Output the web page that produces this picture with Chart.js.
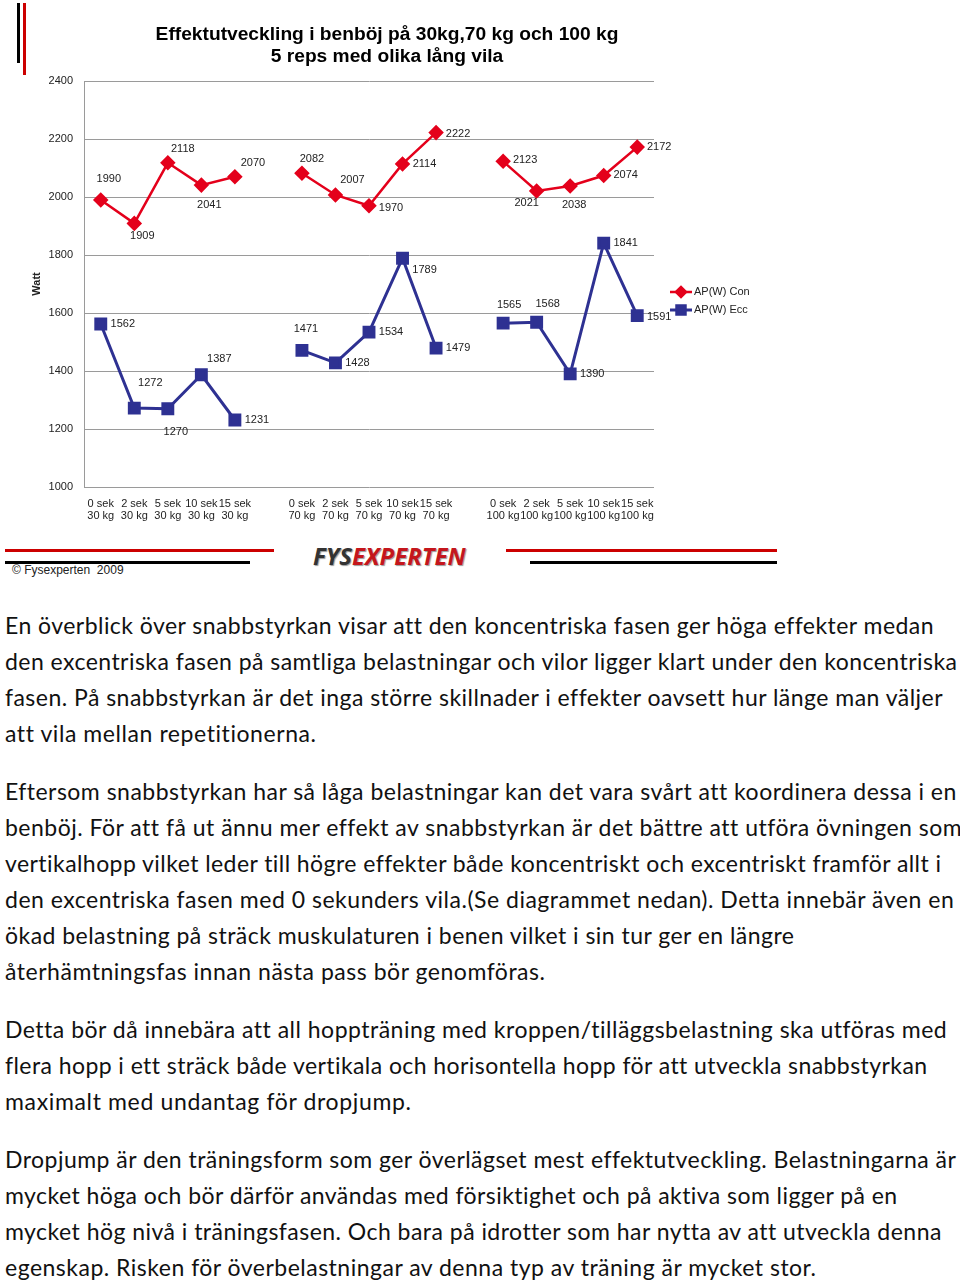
<!DOCTYPE html>
<html>
<head>
<meta charset="utf-8">
<script src="https://cdn.jsdelivr.net/npm/chart.js@4.4.1/dist/chart.umd.min.js"></script>
<style>
  body { margin: 0; background: #fff; width: 960px; height: 1281px; position: relative; overflow: hidden; }
  .abs { position: absolute; }
  #chart { position: absolute; left: 0; top: 0; }
  .logo { font-family: "Open Sans", sans-serif; font-weight: 700; font-style: italic; font-size: 24px;
          text-shadow: 1px 1px 1px #999; line-height: 1; }
  .copy { font-family: "Liberation Sans", Arial, sans-serif; font-size: 12px; color: #222; }
  .para { position: absolute; left: 5px; font-family: Lato, "Open Sans", sans-serif; font-size: 23px;
          line-height: 36px; color: #111; white-space: nowrap; }
  .para div span { display: inline-block; }
</style>
</head>
<body>

<div class="abs" style="left:17px;top:3px;width:3px;height:60px;background:#000"></div>
<div class="abs" style="left:23px;top:3px;width:3px;height:72px;background:#c00"></div>

<canvas id="chart" width="800" height="530"></canvas>

<div class="abs" style="left:5px;top:549px;width:269px;height:3px;background:#c00"></div>
<div class="abs" style="left:5px;top:561px;width:245px;height:3px;background:#000"></div>
<div class="abs" style="left:506px;top:549px;width:271px;height:3px;background:#c00"></div>
<div class="abs" style="left:530px;top:561px;width:247px;height:3px;background:#000"></div>
<div class="abs logo" style="left:313px;top:544px"><span style="color:#333">FYS</span><span style="color:#c4161c">EXPERTEN</span></div>
<div class="abs copy" style="left:12px;top:563px">© Fysexperten&nbsp; 2009</div>

<div class="para" style="top:607px">
  <div data-r="932"><span>En överblick över snabbstyrkan visar att den koncentriska fasen ger höga effekter medan</span></div>
  <div data-r="957"><span>den excentriska fasen på samtliga belastningar och vilor ligger klart under den koncentriska</span></div>
  <div data-r="941"><span>fasen. På snabbstyrkan är det inga större skillnader i effekter oavsett hur länge man väljer</span></div>
  <div data-r="316"><span>att vila mellan repetitionerna.</span></div>
</div>
<div class="para" style="top:773px">
  <div data-r="955"><span>Eftersom snabbstyrkan har så låga belastningar kan det vara svårt att koordinera dessa i en</span></div>
  <div data-r="958"><span>benböj. För att få ut ännu mer effekt av snabbstyrkan är det bättre att utföra övningen som</span></div>
  <div data-r="941"><span>vertikalhopp vilket leder till högre effekter både koncentriskt och excentriskt framför allt i</span></div>
  <div data-r="953"><span>den excentriska fasen med 0 sekunders vila.(Se diagrammet nedan). Detta innebär även en</span></div>
  <div data-r="794"><span>ökad belastning på sträck muskulaturen i benen vilket i sin tur ger en längre</span></div>
  <div data-r="545"><span>återhämtningsfas innan nästa pass bör genomföras.</span></div>
</div>
<div class="para" style="top:1011px">
  <div data-r="945"><span>Detta bör då innebära att all hoppträning med kroppen/tilläggsbelastning ska utföras med</span></div>
  <div data-r="926"><span>flera hopp i ett sträck både vertikala och horisontella hopp för att utveckla snabbstyrkan</span></div>
  <div data-r="411"><span>maximalt med undantag för dropjump.</span></div>
</div>
<div class="para" style="top:1141px">
  <div data-r="955"><span>Dropjump är den träningsform som ger överlägset mest effektutveckling. Belastningarna är</span></div>
  <div data-r="898"><span>mycket höga och bör därför användas med försiktighet och på aktiva som ligger på en</span></div>
  <div data-r="939"><span>mycket hög nivå i träningsfasen. Och bara på idrotter som har nytta av att utveckla denna</span></div>
  <div data-r="816"><span>egenskap. Risken för överbelastningar av denna typ av träning är mycket stor.</span></div>
</div>

<script>
// chart data
const categories = [
  ["0 sek", "30 kg"], ["2 sek", "30 kg"], ["5 sek", "30 kg"], ["10 sek", "30 kg"], ["15 sek", "30 kg"],
  "",
  ["0 sek", "70 kg"], ["2 sek", "70 kg"], ["5 sek", "70 kg"], ["10 sek", "70 kg"], ["15 sek", "70 kg"],
  "",
  ["0 sek", "100 kg"], ["2 sek", "100 kg"], ["5 sek", "100 kg"], ["10 sek", "100 kg"], ["15 sek", "100 kg"]
];
const conValues = [1990, 1909, 2118, 2041, 2070, null, 2082, 2007, 1970, 2114, 2222, null, 2123, 2021, 2038, 2074, 2172];
const eccValues = [1562, 1272, 1270, 1387, 1231, null, 1471, 1428, 1534, 1789, 1479, null, 1565, 1568, 1390, 1841, 1591];
const seriesNames = ["AP(W) Con", "AP(W) Ecc"];
const titleLines = ["Effektutveckling i benböj på 30kg,70 kg och 100 kg", "5 reps med olika lång vila"];
const yMin = 1000, yMax = 2400, yStep = 200;

// where each data label sits relative to its point (px)
const conLabelDx = [8, 8, 15, 8, 18, 0, 10, 17, 22, 22, 22, 0, 22, -10, 4, 22, 22];
const conLabelDy = [-21, 13, -14, 20, -14, 0, -14, -15, 2, 0, 1, 0, -1, 12, 19, -1, 0];
const eccLabelDx = [22, 16, 8, 18, 22, 0, 4, 22, 22, 22, 22, 0, 6, 11, 22, 22, 22];
const eccLabelDy = [0, -25, 23, -16, 0, 0, -21, 0, 0, 12, 0, 0, -18, -18, 0, 0, 1];

const RED = "#e4001b";
const BLUE = "#2e3192";
const FONT = '"Liberation Sans", Arial, sans-serif';

const extras = {
  id: "extras",
  afterDatasetsDraw(chart) {
    const ctx = chart.ctx;
    ctx.save();
    // data labels
    ctx.font = "11px " + FONT;
    ctx.fillStyle = "#222";
    ctx.textAlign = "center";
    ctx.textBaseline = "middle";
    const offs = [[conLabelDx, conLabelDy], [eccLabelDx, eccLabelDy]];
    chart.data.datasets.forEach((ds, i) => {
      chart.getDatasetMeta(i).data.forEach((pt, j) => {
        if (ds.data[j] == null) return;
        ctx.fillText(String(ds.data[j]), pt.x + offs[i][0][j], pt.y + offs[i][1][j]);
      });
    });

    // title
    ctx.font = "bold 19.2px " + FONT;
    ctx.fillStyle = "#000";
    ctx.fillText(titleLines[0], 387, 35);
    ctx.fillText(titleLines[1], 387, 57);

    // legend: line + marker
    const area = chart.chartArea;
    ctx.font = "11px " + FONT;
    ctx.textAlign = "left";
    chart.data.datasets.forEach((ds, i) => {
      const y = 292 + i * 18;
      const x0 = area.right + 16;
      ctx.strokeStyle = ds.borderColor;
      ctx.lineWidth = ds.borderWidth;
      ctx.beginPath();
      ctx.moveTo(x0, y);
      ctx.lineTo(x0 + 22, y);
      ctx.stroke();
      Chart.helpers.drawPoint(ctx, {
        pointStyle: ds.pointStyle, radius: ds.pointRadius - 1, borderWidth: 1
      }, x0 + 11, y);
      ctx.fillStyle = ds.pointBackgroundColor;
      ctx.fill();
      ctx.fillStyle = "#222";
      ctx.fillText(seriesNames[i], x0 + 24, y);
    });
    ctx.restore();
  }
};

new Chart(document.getElementById("chart"), {
  type: "line",
  data: {
    labels: categories,
    datasets: [
      {
        label: seriesNames[0],
        data: conValues,
        borderColor: RED,
        backgroundColor: RED,
        pointBackgroundColor: RED,
        pointBorderColor: RED,
        borderWidth: 2.5,
        pointStyle: "rectRot",
        pointRadius: 6,
        spanGaps: false,
        tension: 0
      },
      {
        label: seriesNames[1],
        data: eccValues,
        borderColor: BLUE,
        backgroundColor: BLUE,
        pointBackgroundColor: BLUE,
        pointBorderColor: BLUE,
        borderWidth: 3,
        pointStyle: "rect",
        pointRadius: 7,
        spanGaps: false,
        tension: 0
      }
    ]
  },
  options: {
    responsive: false,
    animation: false,
    layout: { padding: { top: 81, right: 146, bottom: 0, left: 0 } },
    plugins: {
      legend: { display: false },
      title: { display: false },
      tooltip: { enabled: false }
    },
    scales: {
      x: {
        offset: true,
        grid: { display: false, drawTicks: false },
        border: { display: false },
        ticks: {
          autoSkip: false, maxRotation: 0, padding: 11,
          color: "#222", font: { family: FONT, size: 11, lineHeight: 1.1 }
        },
        afterFit(scale) { scale.height = 530 - 487; }
      },
      y: {
        min: yMin,
        max: yMax,
        grid: { color: "#9a9a9a", lineWidth: 1, drawTicks: false },
        border: { display: true, color: "#9a9a9a" },
        ticks: {
          stepSize: yStep, padding: 11,
          color: "#222", font: { family: FONT, size: 11 },
          callback: v => String(v)
        },
        title: {
          display: true, text: "Watt", color: "#222",
          font: { family: FONT, size: 11, weight: "bold" },
          padding: { top: 30, bottom: 0 }
        },
        afterFit(scale) { scale.width = 84; }
      }
    }
  },
  plugins: [extras]
});

// fit each paragraph line to its measured width in the reference
document.querySelectorAll(".para div").forEach(div => {
  const span = div.firstElementChild;
  const target = Number(div.dataset.r) - 5;
  const w = span.getBoundingClientRect().width;
  const n = span.textContent.length - 1;
  let ls = (target - w) / n;
  ls = Math.max(-2, Math.min(2, ls));
  span.style.letterSpacing = ls.toFixed(3) + "px";
});
</script>
</body>
</html>
